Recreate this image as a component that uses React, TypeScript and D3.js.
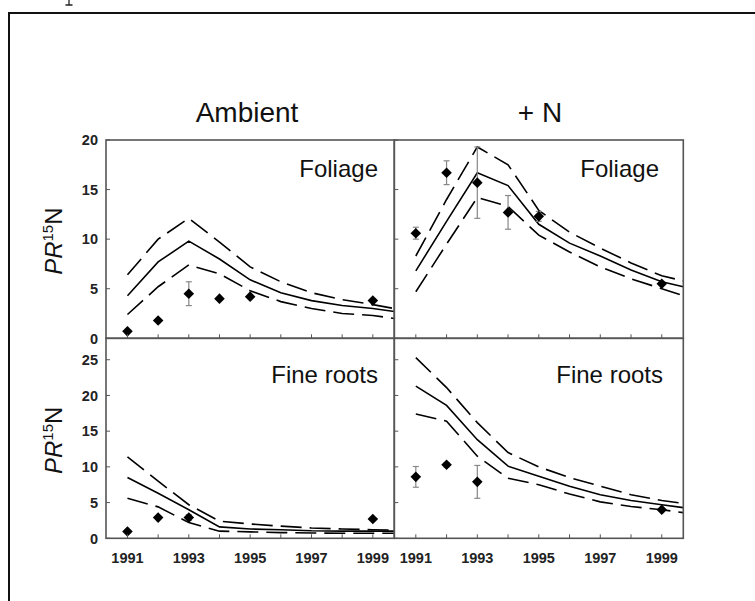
import React from 'react'
import * as d3 from 'd3'

// model curve years (last value is at the right edge of each panel)
const CURVE_YEARS = [1991, 1992, 1993, 1994, 1995, 1996, 1997, 1998, 1999, 1999.7]

// Ambient, foliage
const AMB_FOL_MID = [4.3, 7.7, 9.8, 8.0, 5.9, 4.6, 3.8, 3.3, 3.0, 2.7]
const AMB_FOL_HI = [6.4, 10.0, 12.1, 9.7, 7.2, 5.7, 4.6, 3.9, 3.4, 3.0]
const AMB_FOL_LO = [2.4, 5.2, 7.4, 6.5, 4.8, 3.7, 3.0, 2.5, 2.3, 2.0]
const AMB_FOL_OBS_YEARS = [1991, 1992, 1993, 1994, 1995, 1999]
const AMB_FOL_OBS = [0.7, 1.8, 4.5, 4.0, 4.2, 3.8]
const AMB_FOL_ERR = [0, 0, 1.2, 0, 0, 0]

// +N, foliage
const N_FOL_MID = [6.8, 11.8, 16.7, 15.4, 11.5, 9.6, 8.3, 6.9, 5.7, 5.2]
const N_FOL_HI = [8.3, 14.0, 19.3, 17.5, 12.9, 10.7, 9.1, 7.6, 6.3, 5.8]
const N_FOL_LO = [4.7, 9.5, 14.2, 13.3, 10.4, 8.7, 7.2, 6.0, 5.0, 4.3]
const N_FOL_OBS_YEARS = [1991, 1992, 1993, 1994, 1995, 1999]
const N_FOL_OBS = [10.6, 16.7, 15.7, 12.7, 12.3, 5.5]
const N_FOL_ERR = [0.6, 1.2, 3.6, 1.7, 0.5, 0]

// Ambient, fine roots
const AMB_ROOT_MID = [8.5, 6.3, 4.0, 1.6, 1.3, 1.2, 1.05, 1.0, 1.0, 1.0]
const AMB_ROOT_HI = [11.4, 8.0, 4.7, 2.4, 2.0, 1.7, 1.45, 1.3, 1.2, 1.15]
const AMB_ROOT_LO = [5.6, 4.4, 2.2, 1.0, 0.9, 0.8, 0.75, 0.7, 0.7, 0.7]
const AMB_ROOT_OBS_YEARS = [1991, 1992, 1993, 1999]
const AMB_ROOT_OBS = [0.95, 2.9, 2.9, 2.7]
const AMB_ROOT_ERR = [0, 0, 0.4, 0]

// +N, fine roots
const N_ROOT_MID = [21.3, 18.6, 13.8, 10.1, 8.7, 7.3, 6.1, 5.3, 4.7, 4.3]
const N_ROOT_HI = [25.3, 21.1, 16.2, 12.0, 10.0, 8.5, 7.3, 6.1, 5.3, 4.9]
const N_ROOT_LO = [17.4, 16.4, 11.5, 8.4, 7.5, 6.2, 5.1, 4.45, 4.0, 3.6]
const N_ROOT_OBS_YEARS = [1991, 1992, 1993, 1999]
const N_ROOT_OBS = [8.6, 10.3, 7.9, 4.0]
const N_ROOT_ERR = [1.45, 0.3, 2.3, 0]

const X_TICKS = [1991, 1992, 1993, 1994, 1995, 1996, 1997, 1998, 1999]
const X_LABELS = [1991, 1993, 1995, 1997, 1999]
const FOL_TICKS = [0, 5, 10, 15, 20]
const ROOT_TICKS = [0, 5, 10, 15, 20, 25]
const COLUMN_TITLES = ['Ambient', '+ N']

const FONT = '"Liberation Sans", Arial, Helvetica, sans-serif'
const AXIS = '#555'

const COL_X = [106, 394.3, 683.3]
const ROW_Y = [140, 338.3, 538.3]

const panels = [
  { col: 0, row: 0, label: 'Foliage', labelX: 378, domain: [0, 20], ticks: FOL_TICKS,
    mid: AMB_FOL_MID, hi: AMB_FOL_HI, lo: AMB_FOL_LO, obsX: AMB_FOL_OBS_YEARS, obs: AMB_FOL_OBS, err: AMB_FOL_ERR },
  { col: 1, row: 0, label: 'Foliage', labelX: 659, domain: [0, 20], ticks: FOL_TICKS,
    mid: N_FOL_MID, hi: N_FOL_HI, lo: N_FOL_LO, obsX: N_FOL_OBS_YEARS, obs: N_FOL_OBS, err: N_FOL_ERR },
  { col: 0, row: 1, label: 'Fine roots', labelX: 378, domain: [0, 28], ticks: ROOT_TICKS,
    mid: AMB_ROOT_MID, hi: AMB_ROOT_HI, lo: AMB_ROOT_LO, obsX: AMB_ROOT_OBS_YEARS, obs: AMB_ROOT_OBS, err: AMB_ROOT_ERR },
  { col: 1, row: 1, label: 'Fine roots', labelX: 663, domain: [0, 28], ticks: ROOT_TICKS,
    mid: N_ROOT_MID, hi: N_ROOT_HI, lo: N_ROOT_LO, obsX: N_ROOT_OBS_YEARS, obs: N_ROOT_OBS, err: N_ROOT_ERR },
]

const diamond = d3.symbol(d3.symbolSquare, 56)()

function Panel({ p }: { p: (typeof panels)[number] }) {
  const x0 = COL_X[p.col], x1 = COL_X[p.col + 1]
  const y0 = ROW_Y[p.row], y1 = ROW_Y[p.row + 1]
  const x = d3.scaleLinear().domain([1990.3, 1999.7]).range([x0, x1])
  const y = d3.scaleLinear().domain(p.domain).range([y1, y0])
  const line = d3.line<number>().x((_, i) => x(CURVE_YEARS[i])).y((d) => y(d))
  const id = `clip${p.col}${p.row}`

  return (
    <g>
      <clipPath id={id}>
        <rect x={x0} y={y0} width={x1 - x0} height={y1 - y0} />
      </clipPath>
      <g clipPath={`url(#${id})`} fill="none" stroke="#000" strokeWidth={1.6}>
        <path d={line(p.hi) ?? ''} strokeDasharray="21,8" />
        <path d={line(p.mid) ?? ''} />
        <path d={line(p.lo) ?? ''} strokeDasharray="21,8" />
      </g>

      {/* observations */}
      {p.obs.map((v, i) => {
        const cx = x(p.obsX[i])
        const e = p.err[i]
        return (
          <g key={i}>
            {e > 0 && (
              <g stroke="#888" strokeWidth={1.2}>
                <line x1={cx} x2={cx} y1={y(v - e)} y2={y(v + e)} />
                <line x1={cx - 3} x2={cx + 3} y1={y(v - e)} y2={y(v - e)} />
                <line x1={cx - 3} x2={cx + 3} y1={y(v + e)} y2={y(v + e)} />
              </g>
            )}
            <path d={diamond ?? ''} transform={`translate(${cx},${y(v)}) rotate(45)`} fill="#000" />
          </g>
        )
      })}

      {/* frame + inward ticks */}
      <rect x={x0} y={y0} width={x1 - x0} height={y1 - y0} fill="none" stroke={AXIS} strokeWidth={1.6} />
      {p.ticks.map((t) => (
        <line key={`y${t}`} x1={x0} x2={x0 + 4} y1={y(t)} y2={y(t)} stroke={AXIS} strokeWidth={1} />
      ))}
      {X_TICKS.map((t) => (
        <line key={`x${t}`} x1={x(t)} x2={x(t)} y1={y1} y2={y1 - 4} stroke={AXIS} strokeWidth={1} />
      ))}

      {p.col === 0 &&
        p.ticks.map((t) => (
          <text key={`yl${t}`} x={x0 - 8} y={y(t)} dy="0.36em" textAnchor="end"
            fontSize={14.5} fontWeight="bold" fill="#222">
            {t}
          </text>
        ))}
      {p.row === 1 &&
        X_LABELS.map((t) => (
          <text key={`xl${t}`} x={x(t)} y={563} textAnchor="middle" fontSize={14.5} fontWeight="bold" fill="#222">
            {t}
          </text>
        ))}

      <text x={p.labelX} y={p.row === 0 ? 177 : 383} textAnchor="end" fontSize={24} fill="#111">
        {p.label}
      </text>

      {p.col === 0 && (
        <text transform={`translate(62,${(y0 + y1) / 2 + 2}) rotate(-90)`} textAnchor="middle" fontSize={24} fill="#111">
          <tspan fontStyle="italic">PR</tspan>
          <tspan fontSize={15} dy={-9}>15</tspan>
          <tspan dy={9}>N</tspan>
        </text>
      )}
    </g>
  )
}

export default function App() {
  return (
    <svg width={755} height={601} style={{ position: 'absolute', left: 0, top: 0, background: '#fff' }}
      fontFamily={FONT}>
      <rect x={0} y={0} width={755} height={601} fill="#fff" />
      {/* descender of a glyph from the surrounding page, cut by the crop */}
      <path d="M69,0 V5 M65.5,5 H72.5" stroke="#222" strokeWidth={1.3} fill="none" />
      <rect x={9} y={13} width={800} height={700} fill="none" stroke="#111" strokeWidth={2} />
      {COLUMN_TITLES.map((t, i) => (
        <text key={t} x={i === 0 ? 247 : 540} y={122} textAnchor="middle" fontSize={28} fill="#111">
          {t}
        </text>
      ))}
      {panels.map((p) => (
        <Panel key={`${p.col}${p.row}`} p={p} />
      ))}
    </svg>
  )
}
